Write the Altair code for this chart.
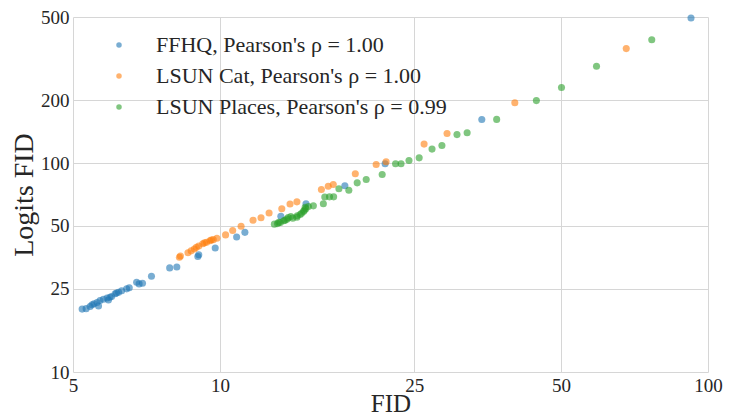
import altair as alt
import pandas as pd

series_names = [
    "FFHQ, Pearson's ρ = 1.00",
    "LSUN Cat, Pearson's ρ = 1.00",
    "LSUN Places, Pearson's ρ = 0.99",
]
series_colors = ["#1f77b4", "#ff7f0e", "#2ca02c"]

ffhq_fid = [5.22, 5.32, 5.42, 5.47, 5.52, 5.60, 5.64, 5.68, 5.77, 5.87, 5.91, 5.95,
            6.00, 6.10, 6.14, 6.20, 6.29, 6.44, 6.52, 6.75, 6.83, 6.94, 7.24, 7.89,
            8.16, 9.01, 9.05, 9.78, 10.82, 11.25, 13.33, 15.01, 18.03, 21.8, 34.4, 92.3]
ffhq_logits = [20.0, 20.1, 20.6, 21.0, 21.2, 21.5, 20.7, 22.0, 22.3, 22.6, 22.1, 22.8,
               23.0, 23.7, 23.9, 24.1, 24.5, 25.0, 25.3, 26.9, 26.4, 26.6, 28.7, 31.5,
               31.8, 35.7, 36.4, 39.2, 44.3, 46.6, 55.6, 63.8, 77.8, 99.3, 161.5, 495]

cat_fid = [8.26, 8.30, 8.60, 8.73, 8.86, 8.95, 9.05, 9.22, 9.30, 9.39, 9.54, 9.60,
           9.69, 9.86, 10.27, 10.62, 11.05, 11.69, 12.14, 12.61, 13.39, 13.92, 14.38,
           16.14, 16.67, 17.07, 18.94, 20.9, 21.9, 26.2, 29.2, 40.2, 68.0]
cat_logits = [35.4, 35.9, 37.2, 38.0, 38.8, 39.5, 40.1, 41.1, 41.5, 41.8, 42.5, 42.8,
              43.0, 43.7, 45.3, 47.6, 49.8, 53.2, 54.7, 57.7, 60.4, 63.7, 65.2,
              74.7, 77.4, 78.9, 88.9, 98.4, 101.4, 123.2, 138.4, 194.5, 353]

places_fid = [12.93, 13.12, 13.2, 13.30, 13.51, 13.6, 13.72, 13.8, 13.97, 14.1, 14.38,
              14.4, 14.60, 14.7, 14.83, 14.9, 14.95, 15.0, 15.18, 15.54, 16.29, 16.40,
              16.77, 17.10, 17.53, 18.37, 19.11, 19.94, 21.5, 22.9, 23.5, 24.4, 25.6,
              27.2, 28.5, 30.6, 32.1, 36.9, 44.5, 50.1, 59.1, 76.7]
places_logits = [51.0, 51.3, 52.0, 51.9, 53.0, 53.2, 53.9, 54.8, 55.5, 54.5, 55.0,
                 56.0, 56.7, 57.5, 58.7, 59.5, 61.5, 60.5, 62.0, 62.4, 63.8, 68.8,
                 68.9, 68.9, 75.4, 74.1, 80.4, 83.4, 88.1, 99.3, 99.3, 102.9, 105.9,
                 116.6, 121.4, 136.8, 139.7, 161.8, 199, 229.8, 290.7, 389]

x_ticks = [5, 10, 25, 50, 100]
y_ticks = [10, 25, 50, 100, 200, 500]

rows = []
for name, xs, ys in zip(series_names,
                        [ffhq_fid, cat_fid, places_fid],
                        [ffhq_logits, cat_logits, places_logits]):
    for xv, yv in zip(xs, ys):
        rows.append({"FID": xv, "Logits": yv, "set": name})
df = pd.DataFrame(rows)
df["order"] = range(len(df))

font = "Liberation Serif"
text_color = "#262626"

chart = alt.Chart(df).mark_circle(size=50, opacity=0.6).encode(
    x=alt.X("FID:Q",
            scale=alt.Scale(type="log", domain=[5, 100], nice=False),
            axis=alt.Axis(values=x_ticks, format="d", title="FID",
                          labelFont=font, labelFontSize=19, labelColor=text_color,
                          labelFlush=False, labelPadding=4,
                          titleY=39, titleBaseline="alphabetic",
                          titleFontSize=25)),
    y=alt.Y("Logits:Q",
            scale=alt.Scale(type="log", domain=[10, 500], nice=False),
            axis=alt.Axis(values=y_ticks, format="d", title="Logits FID",
                          labelFont=font, labelFontSize=19, labelColor=text_color,
                          labelFlush=False, labelPadding=4,
                          titlePadding=2, titleFontSize=28)),
    color=alt.Color("set:N",
                    scale=alt.Scale(domain=series_names, range=series_colors),
                    legend=alt.Legend(title=None, orient="none",
                                      legendX=35, legendY=17,
                                      symbolType="circle", symbolSize=30,
                                      symbolOpacity=0.6, symbolStrokeWidth=0,
                                      labelFont=font, labelFontSize=22,
                                      labelColor=text_color, labelOffset=26,
                                      rowPadding=9, padding=0,
                                      labelLimit=400)),
    order="order:Q",
).properties(
    width=635, height=355,
    autosize="none",
    padding={"left": 65, "top": 9, "right": 15, "bottom": 44},
).configure_view(stroke=None).configure_axis(
    grid=True, gridColor="#d6d6d6", gridWidth=1,
    domain=False, ticks=False,
    titleFont=font, titleFontWeight="normal", titleColor=text_color,
)

chart.save("out.html", embed_options={"renderer": "svg", "actions": False})
